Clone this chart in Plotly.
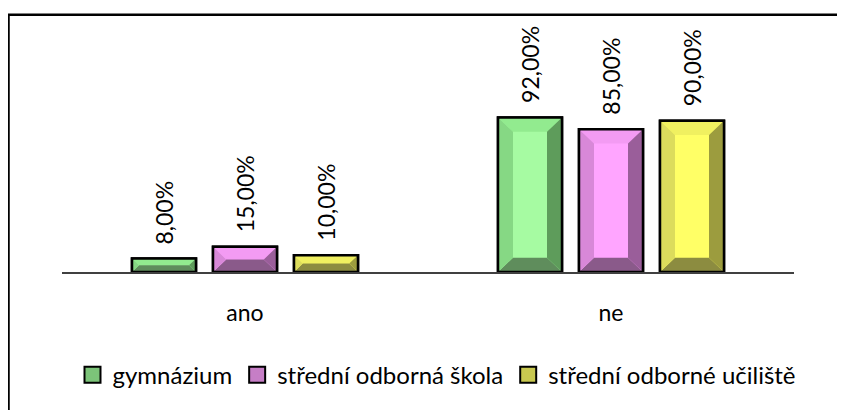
import plotly.graph_objects as go

# ---- data ----
categories = ["ano", "ne"]
series_names = ["gymnázium", "střední odborná škola", "střední odborné učiliště"]
gymnazium = [8.0, 92.0]
stredni_skola = [15.0, 85.0]
stredni_uciliste = [10.0, 90.0]
series_values = [gymnazium, stredni_skola, stredni_uciliste]

# ---- style ----
OFF = 8  # page body margin of the html page
W, H = 845 - OFF, 410 - OFF
L, T = 62 - OFF, 104 - OFF
plot_w = 732
plot_h = 176
R = W - L - plot_w
B = H - T - plot_h
y_max = 100.0
px_per_x = plot_w / 2.0          # x range is [-0.5, 1.5]
px_per_y = plot_h / y_max

pitch = 81 / px_per_x
bar_w = 64 / px_per_x
bevel_px = 15

FONT = "Lato, Carlito, 'Open Sans', sans-serif"

palette = [
    dict(face="#A6FBA2", top="#92EB8F", left="#86D884", right="#5E9C5B", bottom="#5F8D5C", legend="#7CC479"),
    dict(face="#FFA5FF", top="#F39BF3", left="#D888D8", right="#9A5E9A", bottom="#8A5A8A", legend="#C67EC6"),
    dict(face="#FFFF66", top="#F0F060", left="#DCDC5C", right="#9C9C3E", bottom="#8C8C40", legend="#C8C850"),
]

def paper_x(px):
    return (px - OFF - L) / plot_w

def paper_y(py):
    return (T + plot_h - (py - OFF)) / plot_h

fig = go.Figure()

annotations = []
for s, (name, vals) in enumerate(zip(series_names, series_values)):
    col = palette[s]
    xs = [i + (s - 1) * pitch for i in range(len(categories))]
    fig.add_trace(go.Bar(
        x=xs, y=vals, width=bar_w, name=name, showlegend=False,
        marker=dict(color=col["face"], line=dict(color="black", width=2.5)),
        hoverinfo="skip",
    ))
    polys = {"top": ([], []), "bottom": ([], []), "left": ([], []), "right": ([], [])}
    outline_x, outline_y = [], []
    for xc, v in zip(xs, vals):
        x0, x1 = xc - bar_w / 2, xc + bar_w / 2
        y0, y1 = 0.0, v
        bpx = min(bevel_px, v * px_per_y / 2.0)
        bx = bpx / px_per_x
        by = bpx / px_per_y
        shapes = {
            "top": [(x0, y1), (x1, y1), (x1 - bx, y1 - by), (x0 + bx, y1 - by)],
            "bottom": [(x0, y0), (x1, y0), (x1 - bx, y0 + by), (x0 + bx, y0 + by)],
            "left": [(x0, y0), (x0, y1), (x0 + bx, y1 - by), (x0 + bx, y0 + by)],
            "right": [(x1, y0), (x1, y1), (x1 - bx, y1 - by), (x1 - bx, y0 + by)],
        }
        for k, pts in shapes.items():
            px_, py_ = polys[k]
            for (a, b) in pts + [pts[0]]:
                px_.append(a)
                py_.append(b)
            px_.append(None)
            py_.append(None)
        for (a, b) in [(x0, y0), (x0, y1), (x1, y1), (x1, y0), (x0, y0)]:
            outline_x.append(a)
            outline_y.append(b)
        outline_x.append(None)
        outline_y.append(None)
        annotations.append(dict(
            x=xc, y=v, xref="x", yref="y", text=f"{v:.2f}".replace(".", ",") + "%",
            textangle=-90, showarrow=False, xanchor="center", yanchor="bottom",
            yshift=12, font=dict(family=FONT, size=23, color="black"),
        ))
    for k in ["top", "bottom", "left", "right"]:
        fig.add_trace(go.Scatter(
            x=polys[k][0], y=polys[k][1], mode="lines", fill="toself",
            fillcolor=col[k], line=dict(width=0, color=col[k]),
            showlegend=False, hoverinfo="skip",
        ))
    fig.add_trace(go.Scatter(
        x=outline_x, y=outline_y, mode="lines",
        line=dict(color="black", width=2.5),
        showlegend=False, hoverinfo="skip",
    ))
    # legend entry (square marker like the original)
    fig.add_trace(go.Scatter(
        x=[None], y=[None], mode="markers", name=name, showlegend=True,
        marker=dict(symbol="square", size=16, color=col["legend"],
                    line=dict(color="black", width=2)),
        hoverinfo="skip",
    ))

fig.update_layout(
    width=W, height=H,
    margin=dict(l=L, r=R, t=T, b=B, pad=0),
    paper_bgcolor="white", plot_bgcolor="white",
    barmode="overlay",
    font=dict(family=FONT, color="black"),
    showlegend=True,
    legend=dict(
        orientation="h", x=paper_x(437), y=paper_y(388),
        xanchor="center", yanchor="middle",
        font=dict(family=FONT, size=24, color="black"),
        traceorder="normal", itemsizing="trace",
    ),
    annotations=annotations,
    shapes=[dict(
        type="rect", xref="paper", yref="paper",
        x0=paper_x(8.5), x1=paper_x(870), y0=paper_y(10.5), y1=paper_y(440),
        line=dict(color="black", width=2.5), fillcolor="rgba(0,0,0,0)", layer="below",
    )],
)
fig.update_xaxes(
    range=[-0.5, 1.5], tickvals=list(range(len(categories))), ticktext=categories,
    showline=True, linecolor="#404040", linewidth=1.5, ticks="",
    showgrid=False, zeroline=False, ticklabelstandoff=20,
    tickfont=dict(family=FONT, size=23, color="black"),
)
fig.update_yaxes(range=[0, y_max], visible=False, showgrid=False, zeroline=False)

fig.write_html("out.html")
